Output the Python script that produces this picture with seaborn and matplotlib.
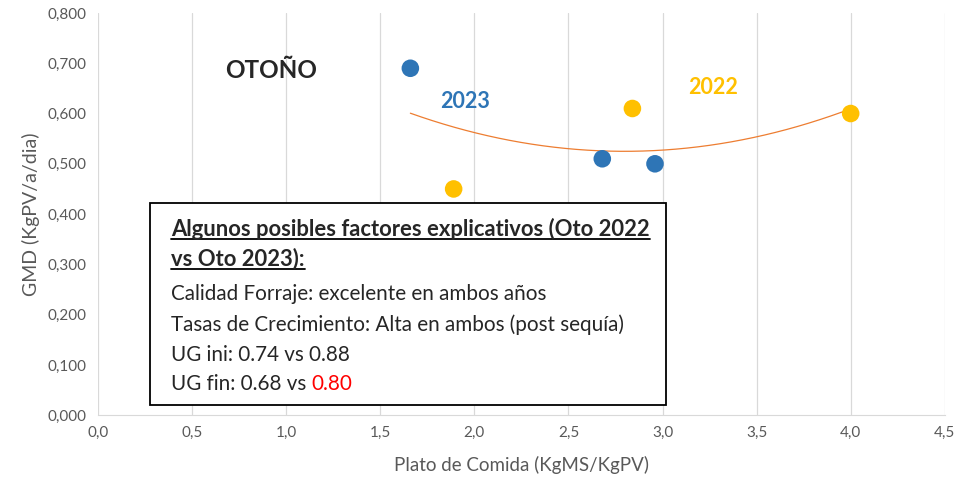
import numpy as np
import pandas as pd
import seaborn as sns
import matplotlib.pyplot as plt
from matplotlib.patches import Rectangle
from matplotlib.ticker import FuncFormatter

# ============================================================
# Data
# ============================================================

x_2023 = [1.66, 2.68, 2.96]
y_2023 = [0.690, 0.510, 0.500]

x_2022 = [1.89, 2.84, 4.00]
y_2022 = [0.450, 0.610, 0.600]

years = ["2023"] * 3 + ["2022"] * 3

x_ticks = [0.0, 0.5, 1.0, 1.5, 2.0, 2.5, 3.0, 3.5, 4.0, 4.5]
y_ticks = [0.0, 0.1, 0.2, 0.3, 0.4, 0.5, 0.6, 0.7, 0.8]

box_lines = [
    "Calidad Forraje: excelente en ambos años",
    "Tasas de Crecimiento: Alta en ambos (post sequía)",
    "UG ini: 0.74 vs 0.88",
]

df = pd.DataFrame({
    "plato": x_2023 + x_2022,
    "gmd": y_2023 + y_2022,
    "year": years,
})

# ============================================================
# Style
# ============================================================

sns.set_style("white")
plt.rcParams["font.family"] = ["Lato", "DejaVu Sans"]

GREY = "#595959"
BLUE = "#2E75B6"
GOLD = "#FFC000"

fig = plt.figure(figsize=(9.75, 4.8), dpi=100)
ax = fig.add_axes([0.1005, 0.135, 0.8685, 0.838])

# ============================================================
# Scatter + polynomial trendline (order 2, all points)
# ============================================================

sns.scatterplot(
    data=df, x="plato", y="gmd", hue="year",
    palette={"2023": BLUE, "2022": GOLD},
    s=160, edgecolor="none", legend=False, ax=ax, zorder=3
)

coef = np.polyfit(df["plato"], df["gmd"], 2)
xs = np.linspace(df["plato"].min(), df["plato"].max(), 200)
sns.lineplot(x=xs, y=np.polyval(coef, xs), color="#ED7D31", linewidth=0.9, ax=ax, zorder=2)

# ============================================================
# Axes
# ============================================================

ax.set_xlim(0, 4.5)
ax.set_ylim(0, 0.8)
ax.set_xticks(x_ticks)
ax.set_yticks(y_ticks)
ax.xaxis.set_major_formatter(FuncFormatter(lambda v, p: f"{v:.1f}".replace(".", ",")))
ax.yaxis.set_major_formatter(FuncFormatter(lambda v, p: f"{v:.3f}".replace(".", ",")))
ax.tick_params(colors=GREY, labelsize=11, length=0, pad=8)

ax.grid(axis="x", color="#D9D9D9", linewidth=0.9)
ax.grid(axis="y", visible=False)
for side in ["top", "right", "left"]:
    ax.spines[side].set_visible(False)
ax.spines["bottom"].set_color("#D9D9D9")

ax.set_xlabel("Plato de Comida (KgMS/KgPV)", color=GREY, fontsize=13.5, labelpad=11)
ax.set_ylabel("GMD (KgPV/a/dia)", color=GREY, fontsize=14, labelpad=6)

# ============================================================
# Annotations
# ============================================================

fig.text(225 / 975, 1 - 70 / 480, "OTOÑO", fontsize=17.5, fontweight="bold", va="center")
fig.text(440 / 975, 1 - 101 / 480, "2023", fontsize=15.5, fontweight="bold", color=BLUE, va="center")
fig.text(688 / 975, 1 - 88 / 480, "2022", fontsize=15.5, fontweight="bold", color=GOLD, va="center")

# text box
fig.patches.append(Rectangle((150 / 975, 1 - 405 / 480), 516 / 975, 202 / 480,
                             transform=fig.transFigure, fill=True, facecolor="white",
                             edgecolor="black", linewidth=1.3, zorder=5))

left = 171 / 975
t1 = fig.text(left, 1 - 229 / 480, "Algunos posibles factores explicativos (Oto 2022",
              fontsize=15.8, fontweight="bold", va="center", zorder=6)
t2 = fig.text(left, 1 - 259 / 480, "vs Oto 2023):",
              fontsize=15.8, fontweight="bold", va="center", zorder=6)

ys = [294, 325, 355]
for yy, line in zip(ys, box_lines):
    fig.text(left, 1 - yy / 480, line, fontsize=14.9, va="center", zorder=6)

t_last = fig.text(left, 1 - 384 / 480, "UG fin: 0.68 vs ", fontsize=14.9, va="center", zorder=6)

# underline the bold heading, place the red value after the last line
fig.canvas.draw()
renderer = fig.canvas.get_renderer()
inv = fig.transFigure.inverted()
for t in [t1, t2]:
    bb = t.get_window_extent(renderer)
    (x0, y0), (x1, _) = inv.transform([(bb.x0, bb.y0 + 1), (bb.x1, bb.y0)])
    fig.add_artist(plt.Line2D([x0, x1], [y0, y0], transform=fig.transFigure,
                              color="black", linewidth=1.3, zorder=6))

bb = t_last.get_window_extent(renderer)
xr, _ = inv.transform((bb.x1, bb.y0))
fig.text(xr, 1 - 384 / 480, "0.80", fontsize=14.9, color="red", va="center", zorder=6)

fig.savefig("out.png", dpi=100)
